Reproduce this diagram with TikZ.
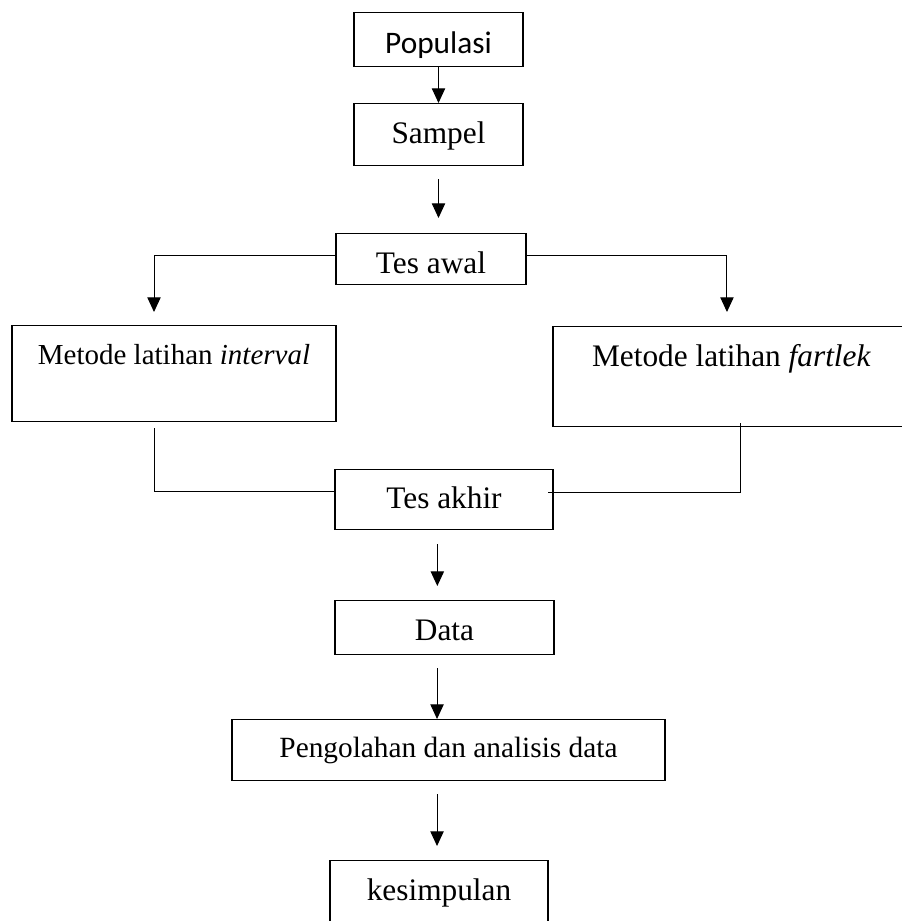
\documentclass[tikz,border=0pt]{standalone}
\usepackage{fontspec}
\usepackage{tikz}
\setmainfont{Liberation Serif}
\newfontfamily\calibri{Carlito}
\usetikzlibrary{positioning, arrows.meta}

\begin{document}
\begin{tikzpicture}[x=0.75pt, y=-0.75pt,
	main/.style = {draw, line width=1.1pt, inner sep=0pt, anchor=north, font=\fontsize{23.5}{28}\selectfont},
	panah/.style = {line width=0.75pt, -{Triangle[width=10pt,length=11pt]}},
	garis/.style = {line width=0.75pt}]
		\useasboundingbox (0,0) rectangle (901,921);
		\node[main] (populasi) at (438.5,12) [minimum width=126.75pt, text height=30.75pt, text depth=9.75pt] {\calibri Populasi};
		\node[main] (sampel) at (438.5,103) [minimum width=126.75pt, text height=30pt, text depth=16.5pt] {Sampel};
		\node[main] (tesawal) at (431,233) [minimum width=142.5pt, text height=30pt, text depth=8.25pt] {Tes awal};
		\node[main] (interval) at (174,325) [minimum width=243pt, text height=29.25pt, text depth=42.75pt, font=\fontsize{21.75}{26}\selectfont] {Metode latihan \textit{interval}};
		\node[main] (fartlek) at (731.5,326) [minimum width=267.75pt, text height=30pt, text depth=45pt] {Metode latihan \textit{fartlek}};
		\node[main] (tesakhir) at (444,469) [minimum width=163.5pt, text height=29.25pt, text depth=15.75pt] {Tes akhir};
		\node[main] (data) at (444.5,600) [minimum width=164.25pt, text height=30pt, text depth=10.5pt] {Data};
		\node[main] (olah) at (448.5,719) [minimum width=324.75pt, text height=28.5pt, text depth=17.25pt, font=\fontsize{22}{26}\selectfont] {Pengolahan dan analisis data};
		\node[main] (simpul) at (439,860) [minimum width=163.5pt, text height=30pt, text depth=19pt] {kesimpulan};
		\draw[panah] (populasi) to (sampel);
		\draw[panah, shorten <=9.75pt, shorten >=11.25pt] (sampel.south) to (sampel.south |- tesawal.north);
		\draw[panah] ([yshift=2.6pt]tesawal.west) -| ([xshift=-15pt,yshift=9.75pt]interval.north);
		\draw[panah] ([yshift=2.6pt]tesawal.east) -| ([xshift=-3.4pt,yshift=10.5pt]fartlek.north);
		\draw[garis] ([xshift=-15pt,yshift=-4.5pt]interval.south) |- ([yshift=6pt]tesakhir.west);
		\draw[garis] ([xshift=7.1pt,yshift=3pt]fartlek.south) |- ([xshift=-4.5pt,yshift=5.25pt]tesakhir.east);
		\draw[panah, shorten <=10.5pt, shorten >=10.5pt] ([xshift=-5pt]tesakhir.south) to ([xshift=-5pt]tesakhir.south |- data.north);
		\draw[panah, shorten <=9.75pt] ([xshift=-5.6pt]data.south) to ([xshift=-5.6pt]data.south |- olah.north);
		\draw[panah, shorten <=9.75pt, shorten >=10.5pt] ([xshift=-8.6pt]olah.south) to ([xshift=-8.6pt]olah.south |- simpul.north);
	\end{tikzpicture}
\end{document}
